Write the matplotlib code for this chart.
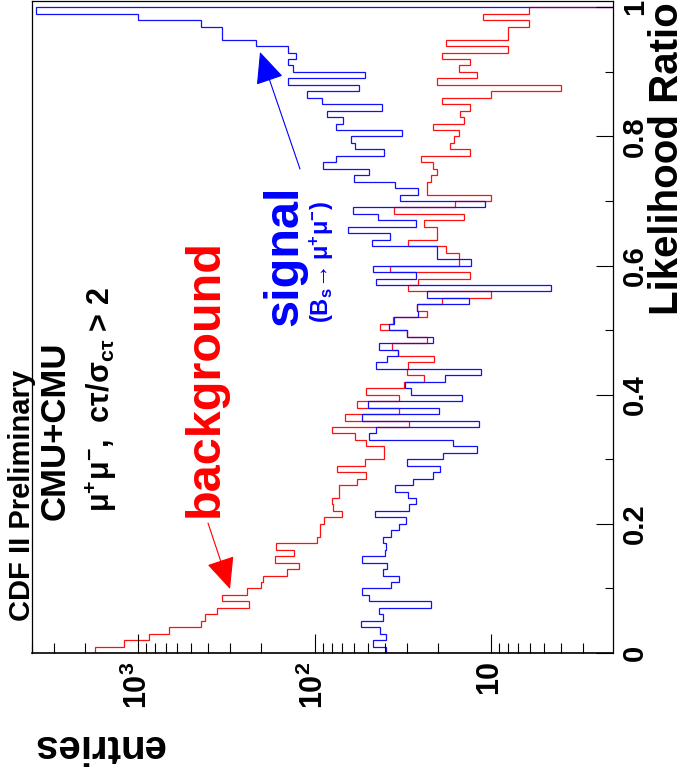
import numpy as np
import matplotlib
matplotlib.use("Agg")
import matplotlib.pyplot as plt
from matplotlib.ticker import LogLocator, NullFormatter, MultipleLocator

plt.rcParams['font.family'] = ['Liberation Sans', 'DejaVu Sans']
plt.rcParams['mathtext.fontset'] = 'custom'
plt.rcParams['mathtext.rm'] = 'Liberation Sans'
plt.rcParams['mathtext.bf'] = 'Liberation Sans:bold'
plt.rcParams['mathtext.it'] = 'Liberation Sans:italic'
plt.rcParams['mathtext.default'] = 'regular'

# --------------------------
# Data: 100 bins in likelihood ratio, entries per bin
# --------------------------
lr_edges = np.linspace(0.0, 1.0, 101)

signal = [39.5, 46.8, 39.5, 42.6, 54.8, 41, 43, 21.9, 49, 54,
          36.8, 33.2, 40.7, 39, 54, 40, 39.5, 41, 37, 33.2,
          30.3, 45.4, 29.2, 26.6, 29.4, 34.7, 27.5, 21.2, 19.4, 30,
          18.7, 11.9, 16.3, 49, 44.5, 11.6, 54, 19.6, 50, 14.6,
          28.4, 30.5, 18.2, 11.4, 44.5, 39, 33.7, 43, 21.2, 30,
          37.7, 35.3, 26, 26.3, 13.3, 22.9, 4.54, 44.5, 26.6, 46.8,
          12.9, 20.2, 20.2, 47.4, 37.3, 64.4, 26.6, 43.5, 60.8, 10.8,
          32.7, 25.8, 34.7, 59.8, 49, 89, 76, 40.5, 59, 62.4,
          31.8, 76, 68.7, 85.5, 41.3, 90.6, 110, 55.8, 142, 51.8,
          133, 142, 127, 142, 215, 336, 336, 442, 1010, 3830]

background = [1762, 1200, 866, 667, 441, 421, 359, 237, 336, 242,
              202, 197, 144, 123, 167, 131, 165, 96.8, 93.6, 93,
              88, 69.4, 78.9, 80, 72.8, 72.8, 57.7, 51.2, 75, 51.8,
              40.3, 40.3, 50.7, 59, 80, 29.1, 67.3, 33.2, 57.3, 33.2,
              51.3, 31, 23.9, 30, 29.4, 21, 33.5, 36.2, 23.1, 30,
              42.6, 35.8, 22.9, 26.3, 19, 10, 29.4, 26, 13.1, 37.3,
              15.1, 15.1, 18, 29.4, 20.1, 20.1, 23.9, 14.1, 35.4, 16,
              10, 22.9, 22.9, 21.9, 20.1, 21.2, 25, 13.1, 17, 16.1,
              15.1, 21.2, 14.1, 14.9, 13.1, 19, 10, 4.0, 20.1, 12,
              15.1, 13.1, 19, 8, 18, 8, 8, 6.03, 11, 6.03]

entry_ticks = [10, 100, 1000]
entry_labels = [r'$\mathbf{10}$', r'$\mathbf{10^{2}}$', r'$\mathbf{10^{3}}$']
lr_ticks = [0, 0.2, 0.4, 0.6, 0.8, 1.0]
lr_labels = ['0', '0.2', '0.4', '0.6', '0.8', '1']

W, H = 687, 777


def fpx(x, y):
    # pixel position -> figure fraction
    return (x / W, 1 - y / H)


fig = plt.figure(figsize=(W / 100, H / 100), dpi=100)
ax = fig.add_axes([32 / W, 1 - 653 / H, 581 / W, 652 / H])

ax.stairs(background, lr_edges, orientation='horizontal', baseline=1e-3,
          color='#ff1010', lw=0.9)
ax.stairs(signal, lr_edges, orientation='horizontal', baseline=1e-3,
          color='#1010ff', lw=0.9)

ax.set_xscale('log')
ax.set_xlim(4018, 2.02)
ax.set_ylim(0, 1.0098)

for s in ax.spines.values():
    s.set_color('black')
    s.set_linewidth(0.9)
ax.spines['bottom'].set_linewidth(1.2)

# x axis (entries, log) along the bottom
ax.set_xticks(entry_ticks, labels=entry_labels)
ax.xaxis.set_minor_locator(LogLocator(base=10, subs=np.arange(2, 10), numticks=20))
ax.xaxis.set_minor_formatter(NullFormatter())
ax.tick_params(axis='x', which='major', direction='in', length=13.5, width=0.8,
               bottom=True, top=False, labelsize=22, pad=6)
ax.tick_params(axis='x', which='minor', direction='in', length=7, width=0.8,
               bottom=True, top=False)
for lbl in ax.get_xticklabels():
    lbl.set_rotation(90)
    lbl.set_ha('center')
    lbl.set_va('top')

# y axis (likelihood ratio) on the right
ax.yaxis.tick_right()
ax.set_yticks(lr_ticks, labels=lr_labels)
ax.yaxis.set_minor_locator(MultipleLocator(0.1))
ax.tick_params(axis='y', which='major', direction='in', length=12, width=0.8,
               left=False, right=True, labelsize=21, pad=5.5)
ax.tick_params(axis='y', which='minor', direction='in', length=6, width=0.8,
               left=False, right=True)
for lbl in ax.get_yticklabels():
    lbl.set_rotation(90)
    lbl.set_fontweight('bold')
    lbl.set_ha('left')
    lbl.set_va('center')

# axis titles
fig.text(*fpx(678, 2), 'Likelihood Ratio', rotation=90, rotation_mode='anchor',
         ha='right', va='baseline', fontsize=29, fontweight='bold')
fig.text(*fpx(98, 746), 'entries', rotation=180, ha='center', va='center',
         fontsize=29, fontweight='bold')

# labels inside the frame
fig.text(*fpx(22, 495), 'CDF II Preliminary', rotation=90, ha='center', va='center',
         fontsize=21, fontweight='bold')
fig.text(*fpx(55, 431), 'CMU+CMU', rotation=90, ha='center', va='center',
         fontsize=25, fontweight='bold')
fig.text(*fpx(101, 400), r'$\mu^{+}\mu^{-}$,  $\mathbf{c}\tau/\sigma_{\mathbf{c}\tau}$ > 2',
         rotation=90, ha='center', va='center', fontsize=22, fontweight='bold')
fig.text(*fpx(205, 378), 'background', rotation=90, ha='center', va='center',
         fontsize=35, fontweight='bold', color='red')
fig.text(*fpx(285, 256), 'signal', rotation=90, ha='center', va='center',
         fontsize=35, fontweight='bold', color='blue')
fig.text(*fpx(322, 262), r'$\mathbf{(B_{s}\!\rightarrow\mu^{+}\mu^{-})}$', rotation=90,
         ha='center', va='center', fontsize=17, color='blue')

# arrows
arrow_style = '-|>,head_length=2.0,head_width=0.9'
fig.add_artist(matplotlib.patches.FancyArrowPatch(
    fpx(208, 523), fpx(230, 589), transform=fig.transFigure,
    arrowstyle=arrow_style, mutation_scale=10, color='red', lw=0.8,
    shrinkA=0, shrinkB=0))
fig.add_artist(matplotlib.patches.FancyArrowPatch(
    fpx(300, 169), fpx(260, 52), transform=fig.transFigure,
    arrowstyle=arrow_style, mutation_scale=10, color='blue', lw=0.8,
    shrinkA=0, shrinkB=0))

fig.savefig('out.png', dpi=100)
